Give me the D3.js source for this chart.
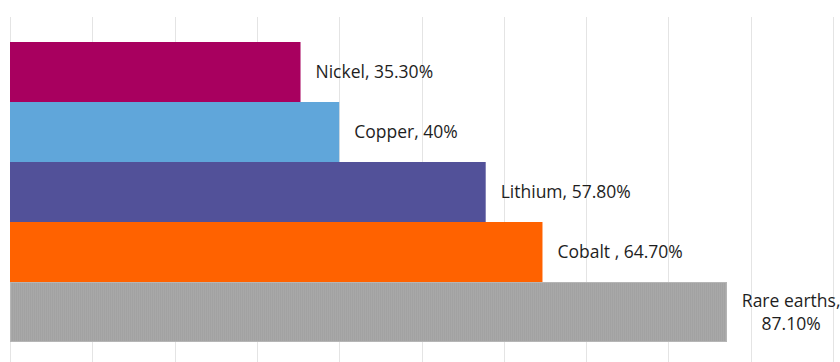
<!DOCTYPE html>
<html>
<head>
<meta charset="utf-8">
<script src="https://cdn.jsdelivr.net/npm/d3@7"></script>
<style>
  html, body { margin: 0; padding: 0; background: #fff; }
  svg { display: block; }
</style>
</head>
<body>
<svg id="chart" width="840" height="362"></svg>
<script>
const categories = ["Nickel", "Copper", "Lithium", "Cobalt", "Rare earths"];
const values = [35.3, 40, 57.8, 64.7, 87.1];
const labels = ["Nickel, 35.30%", "Copper, 40%", "Lithium, 57.80%", "Cobalt , 64.70%", "Rare earths, 87.10%"];
const colors = ["#a8005f", "#60a6da", "#525199", "#ff6200", "#a6a6a6"];
const gridTicks = [0, 10, 20, 30, 40, 50, 60, 70, 80, 90, 100];

const W = 840, H = 362;
const svg = d3.select("#chart");

const x = d3.scaleLinear().domain([0, 100]).range([10, 833]);
const y = d3.scaleBand().domain(categories).range([42, 342]).padding(0);

// pattern for the textured gray bar
const defs = svg.append("defs");
const pat = defs.append("pattern").attr("id", "grayTex")
  .attr("patternUnits", "userSpaceOnUse").attr("width", 2).attr("height", 2);
pat.append("rect").attr("width", 2).attr("height", 2).attr("fill", "#a8a8a8");
pat.append("rect").attr("width", 1).attr("height", 2).attr("fill", "#a2a2a2");

// gridlines
svg.append("g").selectAll("line").data(gridTicks).join("line")
  .attr("x1", d => Math.round(x(d)) + 0.5).attr("x2", d => Math.round(x(d)) + 0.5)
  .attr("y1", 17).attr("y2", H)
  .attr("stroke", "#e4e4e4").attr("stroke-width", 1);

// bars
svg.append("g").selectAll("rect").data(categories).join("rect")
  .attr("x", x(0))
  .attr("y", d => y(d))
  .attr("width", (d, i) => x(values[i]) - x(0))
  .attr("height", y.bandwidth())
  .attr("fill", (d, i) => i === 4 ? "url(#grayTex)" : colors[i]);

// outline for textured bar
svg.append("rect")
  .attr("x", x(0) + 0.5).attr("y", y(categories[4]) + 0.5)
  .attr("width", x(values[4]) - x(0) - 1).attr("height", y.bandwidth() - 1)
  .attr("fill", "none").attr("stroke", "#b5b5b5").attr("stroke-width", 1);

// labels
const lg = svg.append("g")
  .attr("font-family", "'Open Sans', sans-serif")
  .attr("font-size", 17.5).attr("fill", "#1e1e1e");

categories.forEach((c, i) => {
  const lx = x(values[i]) + 15;
  const cy = y(c) + y.bandwidth() / 2;
  const t = lg.append("text").attr("x", lx).attr("y", cy).attr("dy", "0.36em").text(labels[i]);
  const w = t.node().getComputedTextLength();
  if (lx + w > W - 2) {
    t.remove();
    const parts = labels[i].split(", ");
    const lines = [parts[0] + ",", parts.slice(1).join(", ")];
    const tmp = lines.map(s => {
      const tt = lg.append("text").text(s);
      const ww = tt.node().getComputedTextLength();
      tt.remove();
      return ww;
    });
    const maxW = Math.max(...tmp);
    const mx = lx + maxW / 2;
    const lh = 23.4;
    lines.forEach((s, k) => {
      lg.append("text").attr("x", mx).attr("y", cy + (k - (lines.length - 1) / 2) * lh)
        .attr("dy", "0.36em").attr("text-anchor", "middle").text(s);
    });
  }
});
</script>
</body>
</html>
